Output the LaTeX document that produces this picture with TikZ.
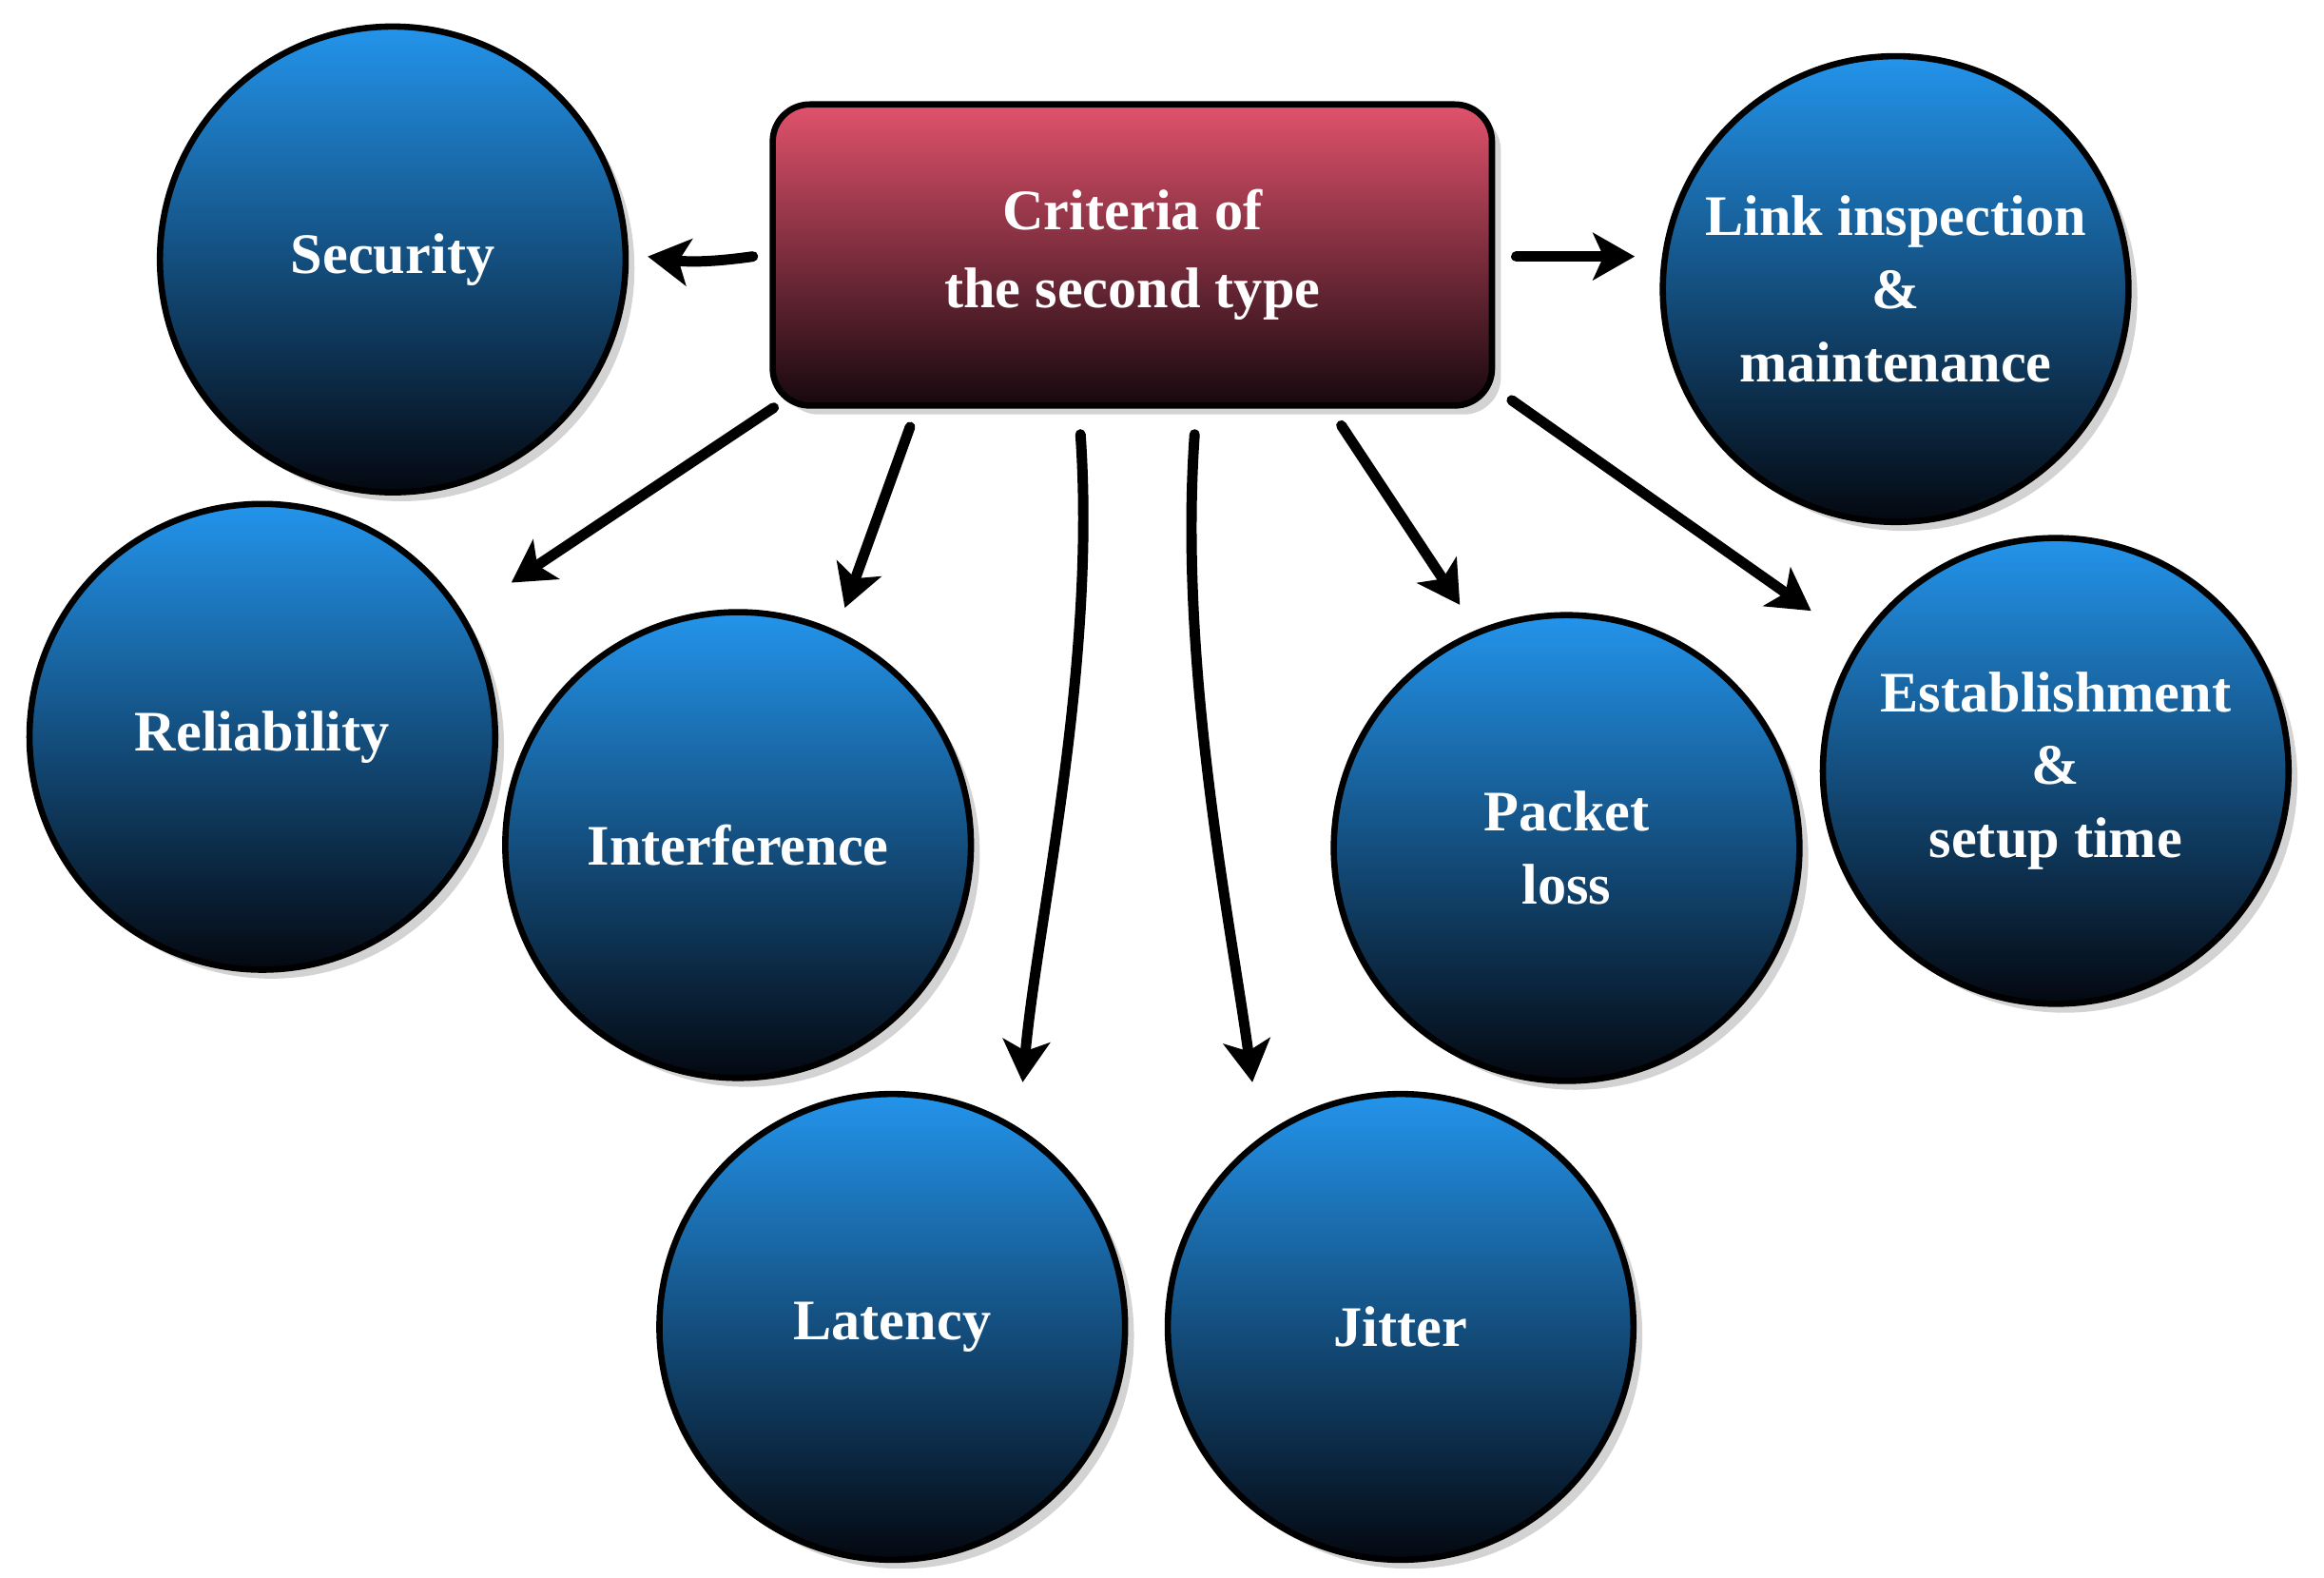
\documentclass[tikz,border=0pt]{standalone}
\usepackage{fontspec}
\setmainfont{Liberation Serif}
\usetikzlibrary{shadows,arrows.meta}
\definecolor{ctop}{RGB}{35,148,235}
\definecolor{cbot}{RGB}{4,8,16}
\definecolor{btop}{RGB}{225,82,108}
\definecolor{bbot}{RGB}{22,8,14}
\begin{document}
\begin{tikzpicture}[x=0.01cm,y=-0.01cm,
  crit/.style={circle,minimum size=314\pgflinewidth*0+3.14cm,draw=black,line width=1.2pt,top color=ctop,bottom color=cbot,drop shadow={opacity=0.35,shadow xshift=0.06cm,shadow yshift=-0.06cm},text=white,font=\fontsize{11}{14}\selectfont\bfseries,align=center,inner sep=0pt},
  arr/.style={line width=2pt,-{Stealth[length=8pt,width=9pt,inset=2pt]},line cap=round}]
\useasboundingbox (0,0) rectangle (1568,1064);
\node[crit] (sec) at (265,175) {Security};
\node[crit] (rel) at (177,497) {Reliability};
\node[crit] (int) at (498,570) {Interference};
\node[crit] (lat) at (602,895) {Latency};
\node[crit] (jit) at (945,895) {Jitter};
\node[crit] (pl) at (1057,572) {Packet\\loss};
\node[crit] (est) at (1387,520) {Establishment\\\&\\setup time};
\node[crit] (lnk) at (1279,195) {Link inspection\\\&\\maintenance};
\node[draw=black,line width=1.2pt,rounded corners=0.25cm,minimum width=4.85cm,minimum height=2.03cm,top color=btop,bottom color=bbot,drop shadow={opacity=0.35,shadow xshift=0.06cm,shadow yshift=-0.06cm},text=white,font=\fontsize{11}{15}\selectfont\bfseries,align=center] (box) at (764,172) {Criteria of\\the second type};
\coordinate (a1) at (508,173); \coordinate (a2) at (1023,173);
\coordinate (a3) at (522,275); \coordinate (a4) at (614,288);
\coordinate (a5) at (729,293); \coordinate (a6) at (806,293);
\coordinate (a7) at (905,287); \coordinate (a8) at (1020,270);
\draw[arr] (a1) to[bend left=8] (437,173);
\draw[arr] (a2) -- (1103,173);
\draw[arr] (a3) -- (345,393);
\draw[arr] (a4) -- (570,410);
\draw[arr] (a5) .. controls (740,450) and (700,620) .. (690,730);
\draw[arr] (a6) .. controls (795,450) and (830,620) .. (845,730);
\draw[arr] (a7) -- (985,408);
\draw[arr] (a8) -- (1222,412);
\end{tikzpicture}
\end{document}
